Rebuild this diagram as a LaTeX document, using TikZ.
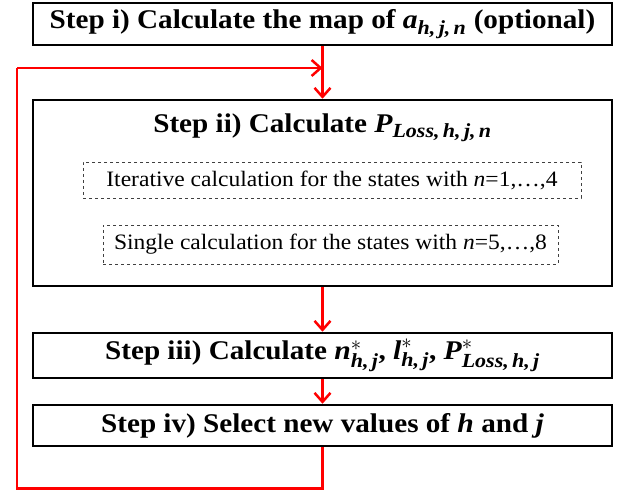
\documentclass[tikz,border=0pt]{standalone}
\usepackage{amsmath}
\usepackage{fontspec}
\setmainfont[FakeStretch=1.08]{Liberation Serif}
\newfontfamily\serifface[FakeStretch=1.07]{Liberation Serif}
\newfontfamily\mathface[FakeStretch=1.1]{Liberation Serif}
\DeclareMathSizes{27}{27}{20}{15}
\usetikzlibrary{arrows.meta}
\newcommand\mv[1]{\text{\mathface\bfseries\itshape #1}}
\tikzset{
  headfont/.style={font=\fontsize{27}{30}\selectfont\bfseries},
  mainbox/.style={draw=black, line width=2.5pt, minimum width=579pt, inner sep=0pt, headfont},
  subbox/.style={draw=black!75, dashed, line width=0.8pt, inner sep=0pt, font=\serifface\fontsize{22}{25}\selectfont},
  flow/.style={draw=red, line width=2.5pt, -{Straight Barb[length=9pt,width=16pt,line width=2.5pt]}},
  loop/.style={draw=red, line width=2.5pt}
}
\begin{document}
\begin{tikzpicture}[x=1pt,y=-1pt]
\useasboundingbox (0,0) rectangle (632,494);
\node[mainbox, minimum height=42pt] (s1) at (322.5,24) {Step i) Calculate the map of $\mv{a}_{\mv{h,\,j,\,n}}$ (optional)};
\node[mainbox, minimum height=186pt] (s2) at (322.5,193) {};
\node[headfont] (t2) at (322.5,128) {Step ii) Calculate $\mv{P}_{\mv{Loss,\,h,\,j,\,n}}$};
\node[subbox, minimum width=498pt, minimum height=36pt] (d1) at (332,180) {Iterative calculation for the states with \textit{n}=1,…,4};
\node[subbox, minimum width=455pt, minimum height=39pt] (d2) at (330.5,244.5) {Single calculation for the states with \textit{n}=5,…,8};
\node[mainbox, minimum height=45pt] (s3) at (322.5,355.5) {Step iii) Calculate $\mv{n}^{*}_{\mv{h,\,j}}$, $\mv{l}^{*}_{\mv{h,\,j}}$, $\mv{P}^{*}_{\mv{Loss,\,h,\,j}}$};
\node[mainbox, minimum height=41pt] (s4) at (322.5,425.5) {Step iv) Select new values of $\mv{h}$ and $\mv{j}$};
\coordinate (j) at (s1.south |- 0,68);
\draw[flow] (s1.south) -- (s2.north);
\draw[flow] (s2.south) -- (s3.north);
\draw[flow] (s3.south) -- (s4.north);
\draw[loop] (s4.south) -- ++(0,41) -| (17,68) coordinate (c);
\draw[flow] (c) -- (j);
\end{tikzpicture}
\end{document}
